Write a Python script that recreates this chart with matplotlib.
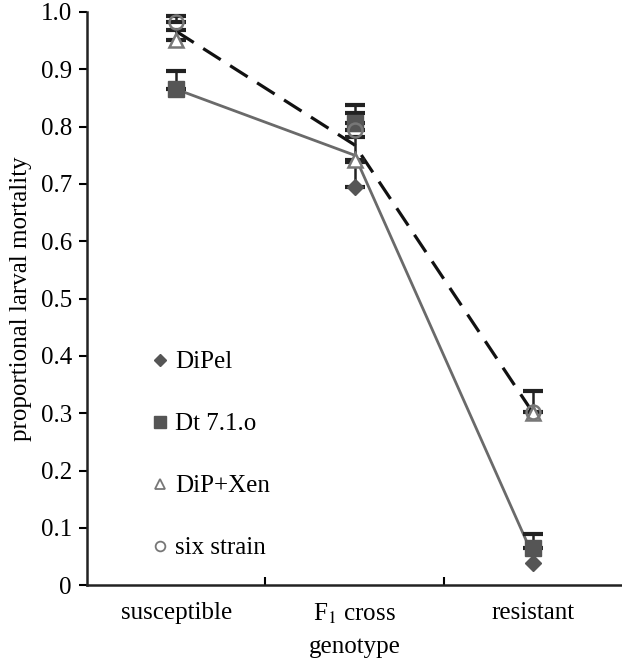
import numpy as np
import matplotlib.pyplot as plt
from matplotlib.lines import Line2D

plt.rcParams['font.family'] = ['Liberation Serif', 'DejaVu Serif']
plt.rcParams['mathtext.fontset'] = 'stix'

# data
genotypes = ['susceptible', 'F$_1$ cross', 'resistant']
dipel = [0.865, 0.695, 0.038]
dipel_err = [0.0, 0.043, 0.0]
dt71o = [0.865, 0.806, 0.065]
dt71o_err = [0.032, 0.032, 0.024]
dipxen = [0.951, 0.742, 0.300]
dipxen_err = [0.018, 0.040, 0.0]
sixstrain = [0.982, 0.794, 0.302]
sixstrain_err = [0.011, 0.030, 0.037]
line_solid = [0.865, 0.750, 0.052]
line_dashed = [0.966, 0.768, 0.301]

x = np.arange(len(genotypes))

fig = plt.figure(figsize=(6.22, 6.59), dpi=100)
ax = fig.add_axes([0.14, 0.112, 0.86, 0.87])

ax.plot(x, line_solid, color='#6a6a6a', lw=2.0, zorder=2)
ax.plot(x, line_dashed, color='#111111', lw=2.3, dashes=(6.5, 3.5), zorder=2)

# one-sided error bars, only where an error was drawn
ekw = dict(fmt='none', ecolor='#222222', elinewidth=1.8, capsize=7, capthick=3, zorder=3)
for vals, errs in [(dipel, dipel_err), (dt71o, dt71o_err),
                   (dipxen, dipxen_err), (sixstrain, sixstrain_err)]:
    v = np.array(vals)
    e = np.array(errs)
    m = e > 0
    ax.errorbar(x[m], v[m], yerr=[np.zeros(m.sum()), e[m]], **ekw)

ax.plot(x, dipel, 'D', color='#555555', ms=8, ls='none', zorder=4)
ax.plot(x, dt71o, 's', color='#555555', ms=11, ls='none', zorder=4)
ax.plot(x, dipxen, '^', mfc='white', mec='#777777', mew=1.8, ms=10, ls='none', zorder=5)
ax.plot(x, sixstrain, 'o', mfc='none', mec='#777777', mew=1.8, ms=10, ls='none', zorder=5)

handles = [
    Line2D([], [], marker='D', color='#555555', ls='none', ms=6),
    Line2D([], [], marker='s', color='#555555', ls='none', ms=8),
    Line2D([], [], marker='^', mfc='white', mec='#777777', mew=1.3, ls='none', ms=7),
    Line2D([], [], marker='o', mfc='white', mec='#777777', mew=1.3, ls='none', ms=7),
]
ax.legend(handles, ['DiPel', 'Dt 7.1.o', 'DiP+Xen', 'six strain'],
          loc='upper left', bbox_to_anchor=(0.08, 0.448), frameon=False,
          fontsize=18, labelspacing=1.58, handlelength=0.6, handletextpad=0.3)

ax.set_xlim(-0.5, 2.5)
ax.set_ylim(0, 1.0)
ax.set_yticks(np.arange(0, 1.01, 0.1))
ax.set_yticklabels(['0'] + ['%.1f' % v for v in np.arange(0.1, 1.01, 0.1)])
ax.set_xticks(x)
ax.set_xticklabels(genotypes)
ax.set_xticks([0.5, 1.5], minor=True)
ax.tick_params(axis='x', which='major', length=0, pad=12, labelsize=18)
ax.tick_params(axis='x', which='minor', direction='in', length=6, width=1.5)
ax.tick_params(axis='y', direction='out', length=6, width=1.5, labelsize=18, pad=5)

for s in ['top', 'right']:
    ax.spines[s].set_visible(False)
for s in ['left', 'bottom']:
    ax.spines[s].set_linewidth(1.8)
    ax.spines[s].set_color('#222222')

ax.set_ylabel('proportional larval mortality', fontsize=18, labelpad=6)
ax.set_xlabel('genotype', fontsize=18, labelpad=7)

fig.savefig('out.png', dpi=100)
